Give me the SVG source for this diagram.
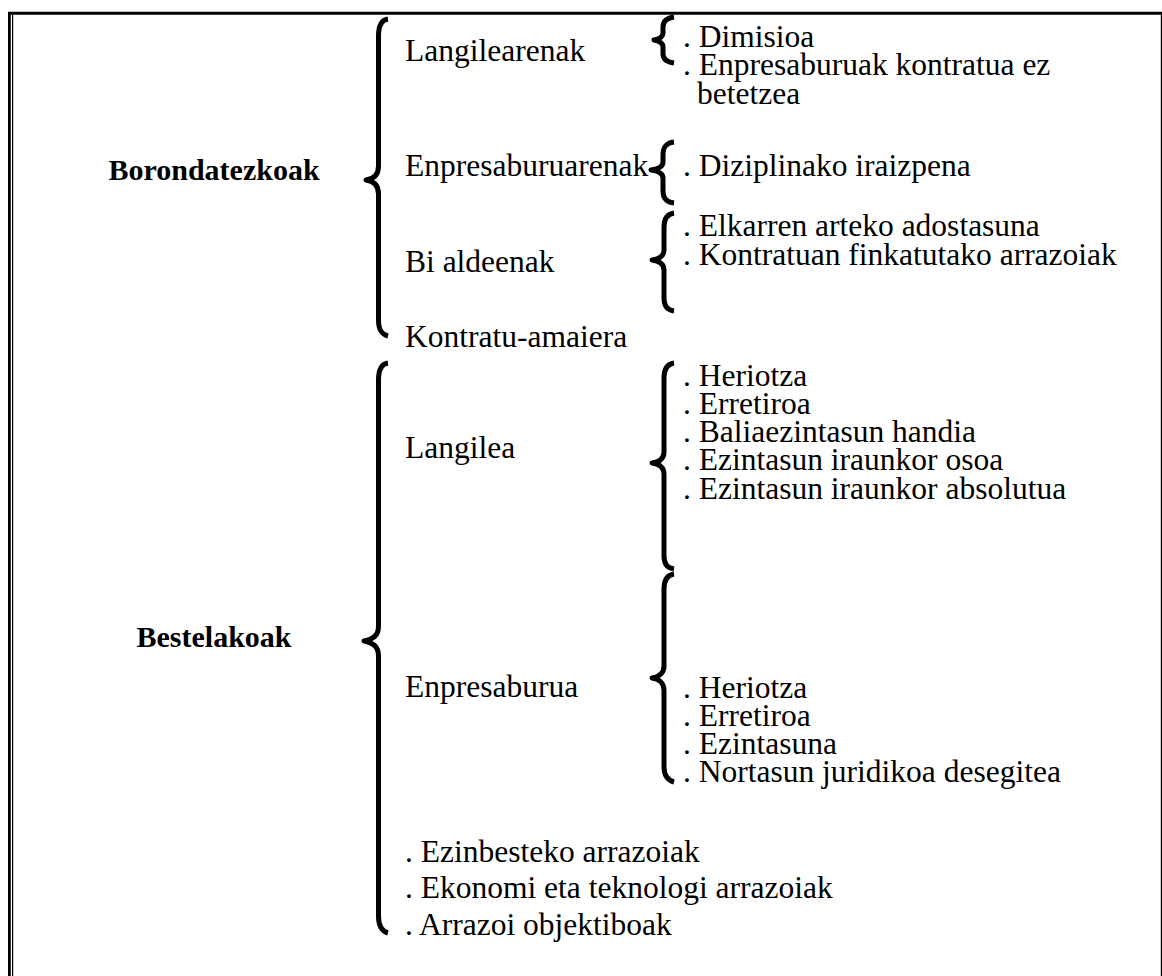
<svg xmlns="http://www.w3.org/2000/svg" width="1162" height="976" viewBox="0 0 1162 976">
  <style>
    text { font-family: "Liberation Serif", "Times New Roman", serif; font-size: 31.5px; fill: #000; }
    .head { font-weight: bold; font-size: 30px; text-anchor: middle; }
    .brace { fill: none; stroke: #000; stroke-width: 5; stroke-linecap: butt; stroke-linejoin: round; }
    .frame { fill: none; stroke: #000; }
  </style>
  <rect x="0" y="0" width="1162" height="976" fill="#fff"/>

  <!-- page frame: thick top rule, doubled left rule, thin right rule -->
  <g id="frame">
    <line class="frame" x1="8" y1="13.3" x2="1162" y2="13.3" stroke-width="3"/>
    <line class="frame" x1="9.4" y1="12" x2="9.4" y2="976" stroke-width="2.8"/>
    <line class="frame" x1="12.6" y1="14.5" x2="12.6" y2="976" stroke-width="1.2"/>
    <line class="frame" x1="1161.4" y1="14" x2="1161.4" y2="976" stroke-width="1.2"/>
  </g>

  <!-- connectors: curly braces -->
  <g id="braces">
    <path class="brace" d="M388,19 C381,20 378.5,26 378.5,36 L378.5,166 C378.5,175 374,179 366,180 C374,181 378.5,185 378.5,194 L378.5,320 C378.5,329 381,334 388,336"/>
    <path class="brace" d="M388,363 C381,364 378.5,370 378.5,380 L378.5,626 C378.5,635 374,639 364,641 C374,643 378.5,647 378.5,656 L378.5,916 C378.5,925 381,931 388,933"/>
    <path class="brace" d="M674,17 C667,18 663,21 663,27 L663,33 C663,37 659,39 654,40 C659,41 663,43 663,47 L663,54 C663,59 667,62 674,63"/>
    <path class="brace" d="M674,142 C666,143 663,147 663,155 L663,162 C663,167 658,169 651,170 C658,171 663,173 663,178 L663,191 C663,198 666,202 674,203"/>
    <path class="brace" d="M674,213 C667,214 664,219 664,227 L664,250 C664,256 659,259 652,260 C659,261 664,264 664,270 L664,298 C664,306 667,310 674,311"/>
    <path class="brace" d="M674,363 C667,364 664,369 664,378 L664,452 C664,459 659,462 652,463 C659,464 664,467 664,474 L664,556 C664,564 667,568 674,569"/>
    <path class="brace" d="M674,574 C667,575 664,580 664,589 L664,666 C664,673 659,677 652,678 C659,679 664,683 664,690 L664,767 C664,775 667,780 674,782"/>
  </g>

  <g id="n-borondatezkoak"><text class="head" x="214" y="180">Borondatezkoak</text></g>
  <g id="n-bestelakoak"><text class="head" x="214" y="647">Bestelakoak</text></g>

  <g id="n-langilearenak"><text x="405" y="61">Langilearenak</text></g>
  <g id="n-enpresaburuarenak"><text x="405" y="176">Enpresaburuarenak</text></g>
  <g id="n-bialdeenak"><text x="405" y="272">Bi aldeenak</text></g>
  <g id="n-kontratu-amaiera"><text x="405" y="347">Kontratu-amaiera</text></g>
  <g id="n-langilea"><text x="405" y="458">Langilea</text></g>
  <g id="n-enpresaburua"><text x="405" y="697">Enpresaburua</text></g>

  <g id="n-langilearenak-list">
    <text x="683" y="47">. Dimisioa</text>
    <text x="683" y="75">. Enpresaburuak kontratua ez</text>
    <text x="697" y="104">betetzea</text>
  </g>
  <g id="n-enpresaburuarenak-list">
    <text x="683" y="176">. Diziplinako iraizpena</text>
  </g>
  <g id="n-bialdeenak-list">
    <text x="683" y="236">. Elkarren arteko adostasuna</text>
    <text x="683" y="265">. Kontratuan finkatutako arrazoiak</text>
  </g>
  <g id="n-langilea-list">
    <text x="683" y="386">. Heriotza</text>
    <text x="683" y="414">. Erretiroa</text>
    <text x="683" y="442">. Baliaezintasun handia</text>
    <text x="683" y="470">. Ezintasun iraunkor osoa</text>
    <text x="683" y="499">. Ezintasun iraunkor absolutua</text>
  </g>
  <g id="n-enpresaburua-list">
    <text x="683" y="698">. Heriotza</text>
    <text x="683" y="726">. Erretiroa</text>
    <text x="683" y="754">. Ezintasuna</text>
    <text x="683" y="782">. Nortasun juridikoa desegitea</text>
  </g>
  <g id="n-bestelakoak-list">
    <text x="405" y="862">. Ezinbesteko arrazoiak</text>
    <text x="405" y="898">. Ekonomi eta teknologi arrazoiak</text>
    <text x="405" y="935">. Arrazoi objektiboak</text>
  </g>
</svg>
